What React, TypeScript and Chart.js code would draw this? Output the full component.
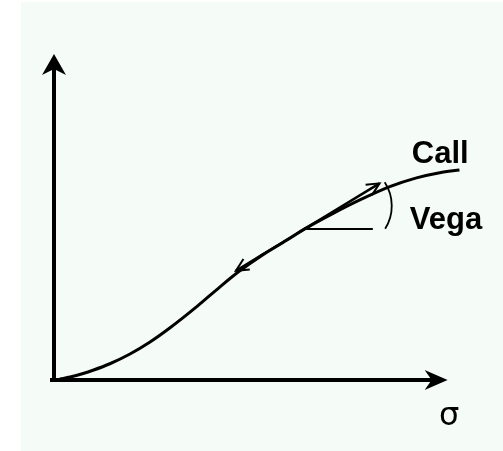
import { useEffect, useRef } from "react";
import { Chart, registerables } from "chart.js";

Chart.register(...registerables);

// Call value as a function of volatility (sigma)
const sigma = [0.15, 0.41, 0.74, 0.99, 1.42, 1.93, 2.44, 2.94, 3.65, 4.21, 4.72, 5.3, 5.91, 6.37, 7.08, 7.77, 8.53, 9.21, 9.8, 10.3];
const callValue = [0.03, 0.09, 0.2, 0.3, 0.5, 0.8, 1.17, 1.6, 2.28, 2.86, 3.36, 3.85, 4.3, 4.65, 5.12, 5.54, 5.95, 6.22, 6.38, 6.46];

// Tangent (vega) at a point of the curve
const tangentPoint = { x: 6.37, y: 4.65 };
const tangentSlope = 0.737;
const tangentRange = [4.62, 8.27];
const horizontalEnd = 8.1;

// Axis extents
const axisMax = { x: 10, y: 10 };

// Text labels
const curveLabel = { text: "Call", x: 9.09, y: 6.68 };
const vegaLabel = { text: "Vega", x: 9.04, y: 4.65 };
const axisLabel = { text: "σ", x: 9.78, y: -1.38 };

function arrowHead(ctx: CanvasRenderingContext2D, tx: number, ty: number, angle: number, len: number, half: number, notch: number) {
  ctx.save();
  ctx.translate(tx, ty);
  ctx.rotate(angle);
  ctx.beginPath();
  ctx.moveTo(0, 0);
  ctx.lineTo(-len, -half);
  ctx.lineTo(-len + notch, 0);
  ctx.lineTo(-len, half);
  ctx.closePath();
  ctx.fill();
  ctx.restore();
}

function openArrow(ctx: CanvasRenderingContext2D, tx: number, ty: number, angle: number, len: number, spread: number) {
  ctx.beginPath();
  ctx.moveTo(tx + Math.cos(angle + Math.PI - spread) * len, ty + Math.sin(angle + Math.PI - spread) * len);
  ctx.lineTo(tx, ty);
  ctx.lineTo(tx + Math.cos(angle + Math.PI + spread) * len, ty + Math.sin(angle + Math.PI + spread) * len);
  ctx.stroke();
}

const diagramPlugin = {
  id: "diagram",
  beforeDraw(chart: Chart) {
    const ctx = chart.ctx;
    ctx.save();
    ctx.fillStyle = "#ffffff";
    ctx.fillRect(0, 0, chart.width, chart.height);
    ctx.fillStyle = "#f5fbf7";
    ctx.fillRect(21, 2, chart.width - 21, chart.height - 2);
    ctx.restore();
  },
  afterDatasetsDraw(chart: Chart) {
    const ctx = chart.ctx;
    const xs = chart.scales.x;
    const ys = chart.scales.y;
    const px = (v: number) => xs.getPixelForValue(v);
    const py = (v: number) => ys.getPixelForValue(v);
    ctx.save();
    ctx.strokeStyle = "#000";
    ctx.fillStyle = "#000";

    // axes
    ctx.lineWidth = 4;
    ctx.beginPath();
    ctx.moveTo(px(0), py(0) + 2);
    ctx.lineTo(px(0), py(axisMax.y) + 10);
    ctx.moveTo(px(0) - 4, py(0));
    ctx.lineTo(px(axisMax.x) - 10, py(0));
    ctx.stroke();
    arrowHead(ctx, px(0), py(axisMax.y) - 1, -Math.PI / 2, 21, 12, 6);
    arrowHead(ctx, px(axisMax.x), py(0), 0, 23, 10, 7);

    // tangent line with arrows at both ends
    const t0 = { x: px(tangentRange[0]), y: py(tangentPoint.y + tangentSlope * (tangentRange[0] - tangentPoint.x)) };
    const t1 = { x: px(tangentRange[1]), y: py(tangentPoint.y + tangentSlope * (tangentRange[1] - tangentPoint.x)) };
    const ang = Math.atan2(t1.y - t0.y, t1.x - t0.x);
    ctx.lineWidth = 2.5;
    ctx.beginPath();
    ctx.moveTo(t0.x, t0.y);
    ctx.lineTo(t1.x, t1.y);
    ctx.stroke();
    ctx.lineWidth = 2;
    openArrow(ctx, t1.x, t1.y, ang, 14, 0.45);
    openArrow(ctx, t0.x, t0.y, ang + Math.PI, 14, 0.45);

    // horizontal reference line
    const tp = { x: px(tangentPoint.x), y: py(tangentPoint.y) };
    ctx.lineWidth = 2;
    ctx.beginPath();
    ctx.moveTo(tp.x, tp.y);
    ctx.lineTo(px(horizontalEnd), tp.y);
    ctx.stroke();

    // angle arc
    ctx.lineWidth = 1.8;
    ctx.beginPath();
    ctx.arc(tp.x + 44, tp.y - 23, 43, -0.58, 0.56);
    ctx.stroke();

    // labels
    ctx.textBaseline = "alphabetic";
    ctx.textAlign = "left";
    ctx.font = "bold 31px 'Liberation Sans', Arial, sans-serif";
    ctx.fillText(curveLabel.text, px(curveLabel.x), py(curveLabel.y));
    ctx.fillText(vegaLabel.text, px(vegaLabel.x), py(vegaLabel.y));
    ctx.font = "32px 'DejaVu Sans', sans-serif";
    ctx.fillText(axisLabel.text, px(axisLabel.x), py(axisLabel.y));
    ctx.restore();
  },
};

export default function App() {
  const ref = useRef<HTMLCanvasElement | null>(null);
  useEffect(() => {
    if (!ref.current) return;
    const chart = new Chart(ref.current, {
      type: "line",
      data: {
        datasets: [
          {
            data: sigma.map((s, i) => ({ x: s, y: callValue[i] })),
            borderColor: "#000",
            borderWidth: 3,
            pointRadius: 0,
            cubicInterpolationMode: "monotone",
            clip: false,
            fill: false,
          },
        ],
      },
      options: {
        animation: false,
        responsive: false,
        devicePixelRatio: 1,
        events: [],
        layout: { padding: { left: 54, right: 16, top: 55, bottom: 71 } },
        plugins: { legend: { display: false }, tooltip: { enabled: false } },
        scales: {
          x: { type: "linear", min: 0, max: 11, display: false },
          y: { type: "linear", min: 0, max: 10, display: false },
        },
      },
      plugins: [diagramPlugin],
    });
    return () => chart.destroy();
  }, []);
  return (
    <div style={{ position: "absolute", left: 0, top: 0, width: 503, height: 451 }}>
      <canvas ref={ref} width={503} height={451} />
    </div>
  );
}
